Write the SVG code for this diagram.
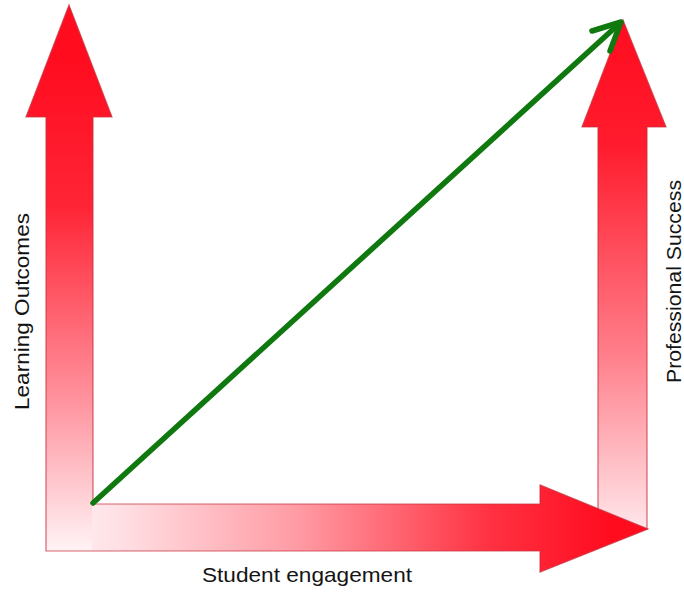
<svg xmlns="http://www.w3.org/2000/svg" width="684" height="592" viewBox="0 0 684 592">
  <style>
    .lbl { font-family: "Liberation Sans", Arial, Helvetica, sans-serif; font-size: 21px; fill: #141414; }
    .edge { fill: none; stroke: #c8303e; stroke-width: 1.2; stroke-opacity: 0.75; stroke-linejoin: miter; }
    .green { fill: none; stroke: #0f780f; stroke-width: 5.5; stroke-linecap: round; stroke-linejoin: round; }
  </style>
  <defs>
    <linearGradient id="gLeft" gradientUnits="userSpaceOnUse" x1="0" y1="60" x2="0" y2="551">
      <stop offset="0" stop-color="#ff0c1f"/>
      <stop offset="0.3" stop-color="#ff2536"/>
      <stop offset="0.7" stop-color="#ff95a0"/>
      <stop offset="1" stop-color="#fff3f5"/>
    </linearGradient>
    <linearGradient id="gBottom" gradientUnits="userSpaceOnUse" x1="46" y1="0" x2="610" y2="0">
      <stop offset="0" stop-color="#fff3f5"/>
      <stop offset="0.12" stop-color="#ffe2e6"/>
      <stop offset="0.45" stop-color="#ff9aa3"/>
      <stop offset="0.78" stop-color="#ff3343"/>
      <stop offset="1" stop-color="#ff0c1f"/>
    </linearGradient>
    <linearGradient id="gRight" gradientUnits="userSpaceOnUse" x1="0" y1="20" x2="0" y2="529">
      <stop offset="0" stop-color="#ff0c1f"/>
      <stop offset="0.25" stop-color="#ff1c2e"/>
      <stop offset="0.65" stop-color="#ff7d89"/>
      <stop offset="1" stop-color="#ffe6ea"/>
    </linearGradient>
  </defs>
  <rect width="684" height="592" fill="#ffffff"/>

  <g id="professional-success">
    <path d="M623,20 L666,127 L647,127 L647,529 L598,529 L598,127 L582,127 Z" fill="url(#gRight)"/>
    <path class="edge" d="M623,20 L666,127 L647,127 L647,529 L598,529 L598,127 L582,127 Z"/>
    <text class="lbl" transform="translate(681,281.5) rotate(-90)" text-anchor="middle" textLength="203" lengthAdjust="spacingAndGlyphs">Professional Success</text>
  </g>

  <g id="learning-outcomes">
    <path d="M69,5 L112,117 L93,117 L93,551 L46,551 L46,117 L26,117 Z" fill="url(#gLeft)"/>
    <text class="lbl" transform="translate(29,311.5) rotate(-90)" text-anchor="middle" textLength="197" lengthAdjust="spacingAndGlyphs">Learning Outcomes</text>
  </g>

  <g id="student-engagement">
    <path d="M92,504 L540,504 L540,485 L648,529 L540,572 L540,551 L92,551 Z" fill="url(#gBottom)"/>
    <text class="lbl" x="202" y="582" textLength="210" lengthAdjust="spacingAndGlyphs">Student engagement</text>
  </g>

  <g id="outline">
    <path class="edge" d="M69,5 L112,117 L93,117 L93,504 L540,504 L540,485 L648,529 L540,572 L540,551 L46,551 L46,117 L26,117 Z"/>
  </g>

  <g id="connectors">
    <line class="green" x1="93" y1="503" x2="620" y2="23"/>
    <polyline class="green" points="592,31 621,22 610,51"/>
  </g>
</svg>
